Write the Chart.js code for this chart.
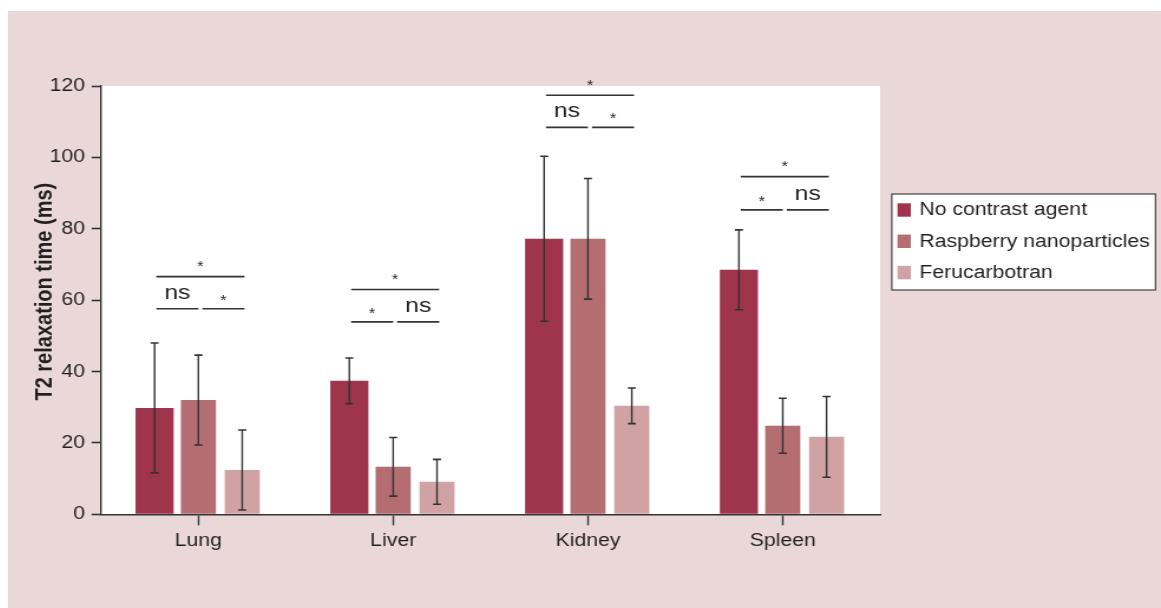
<!DOCTYPE html>
<html>
<head>
<meta charset="utf-8">
<script src="https://cdn.jsdelivr.net/npm/chart.js@4.4.1/dist/chart.umd.min.js"></script>
<style>
  html, body { margin: 0; padding: 0; background: #ffffff; }
  #frame { position: absolute; left: 8px; top: 11px; width: 1153px; height: 597px; background: #ead8d8; overflow: hidden; }
  #c { display: block; }
</style>
</head>
<body>
<div id="frame"><canvas id="c" width="977" height="597" style="width:1153px;height:597px"></canvas></div>
<script>
// T2 relaxation time (ms) per organ, mean and standard deviation
const organs = ['Lung', 'Liver', 'Kidney', 'Spleen'];
const seriesNames = ['No contrast agent', 'Raspberry nanoparticles', 'Ferucarbotran'];
const noContrast      = [29.8, 37.4, 77.2, 68.5];
const noContrastSD    = [18.2, 6.4, 23.1, 11.2];
const raspberry       = [32.0, 13.3, 77.2, 24.8];
const raspberrySD     = [12.6, 8.2, 16.9, 7.7];
const ferucarbotran   = [12.4, 9.1, 30.4, 21.7];
const ferucarbotranSD = [11.2, 6.3, 5.0, 11.3];
const yTicks = [0, 20, 40, 60, 80, 100, 120];

// Significance brackets above each organ group (levels in ms)
const sigOuterLevel = [66.6, 63.0, 117.4, 94.6];
const sigInnerLevel = [57.6, 53.9, 108.4, 85.3];
const sigOuter      = ['*', '*', '*', '*'];
const sigInnerLeft  = ['ns', '*', 'ns', '*'];
const sigInnerRight = ['*', 'ns', '*', 'ns'];

const seriesColors = ['#9e354c', '#b46d70', '#d1a2a3'];
const seriesValues = [noContrast, raspberry, ferucarbotran];
const seriesSD = [noContrastSD, raspberrySD, ferucarbotranSD];
const barPct = [0.87, 0.80, 0.80];

const FONT = '"Liberation Sans", Arial, Helvetica, sans-serif';
const INK = '#231f20';
const LINE = '#333333';

const decorations = {
  id: 'decorations',
  beforeDraw(chart) {
    const { ctx, chartArea: a } = chart;
    ctx.save();
    ctx.fillStyle = '#ffffff';
    ctx.fillRect(a.left, a.top, a.right - a.left, a.bottom - a.top);
    ctx.restore();
  },
  afterDatasetsDraw(chart) {
    const { ctx } = chart;
    const y = chart.scales.y;
    ctx.save();
    ctx.strokeStyle = LINE;
    seriesValues.forEach((vals, i) => {
      const meta = chart.getDatasetMeta(i);
      meta.data.forEach((bar, j) => {
        const top = y.getPixelForValue(vals[j] + seriesSD[i][j]);
        const bot = y.getPixelForValue(vals[j] - seriesSD[i][j]);
        ctx.lineWidth = 1.4;
        ctx.beginPath();
        ctx.moveTo(bar.x, top);
        ctx.lineTo(bar.x, bot);
        ctx.stroke();
        ctx.lineWidth = 1.6;
        ctx.beginPath();
        ctx.moveTo(bar.x - 3.4, top); ctx.lineTo(bar.x + 3.4, top);
        ctx.moveTo(bar.x - 3.4, bot); ctx.lineTo(bar.x + 3.4, bot);
        ctx.stroke();
      });
    });
    ctx.restore();
  },
  afterDraw(chart) {
    const { ctx, chartArea: a } = chart;
    const xs = chart.scales.x, ys = chart.scales.y;
    ctx.save();

    // significance brackets
    const hline = (x1, x2, yy) => {
      ctx.beginPath(); ctx.moveTo(x1, yy); ctx.lineTo(x2, yy); ctx.stroke();
    };
    const label = (txt, cx, lineY) => {
      if (txt === '*') {
        ctx.font = '14px ' + FONT;
        ctx.textBaseline = 'alphabetic';
        ctx.fillText('*', cx, lineY - 4);
      } else {
        ctx.font = '21px ' + FONT;
        ctx.textBaseline = 'alphabetic';
        ctx.fillText(txt, cx, lineY - 10);
      }
    };
    ctx.strokeStyle = LINE;
    ctx.fillStyle = INK;
    ctx.lineWidth = 1.6;
    ctx.textAlign = 'center';
    organs.forEach((_, j) => {
      const c = xs.getPixelForValue(j);
      const yo = ys.getPixelForValue(sigOuterLevel[j]);
      const yi = ys.getPixelForValue(sigInnerLevel[j]);
      hline(c - 35.6, c + 39, yo);
      hline(c - 35.6, c, yi);
      hline(c + 3.4, c + 39, yi);
      ctx.font = '14px ' + FONT;
      ctx.fillText(sigOuter[j], c + 1.7, yo - 5.5);
      label(sigInnerLeft[j], c - 17.8, yi);
      label(sigInnerRight[j], c + 21.2, yi);
    });

    // y-axis title
    ctx.save();
    ctx.translate(31, (a.top + a.bottom) / 2 - 8.5);
    ctx.rotate(-Math.PI / 2);
    ctx.font = 'bold 20px ' + FONT;
    ctx.textAlign = 'center';
    ctx.textBaseline = 'middle';
    ctx.fillStyle = INK;
    ctx.fillText('T2 relaxation time (ms)', 0, 0);
    ctx.restore();

    // legend box
    const lx = a.right + 9.9, ly = a.top + 108, lw = 223.4, lh = 96;
    ctx.fillStyle = '#ffffff';
    ctx.fillRect(lx, ly, lw, lh);
    ctx.strokeStyle = LINE;
    ctx.lineWidth = 1.1;
    ctx.strokeRect(lx, ly, lw, lh);
    ctx.font = '18px ' + FONT;
    ctx.textAlign = 'left';
    ctx.textBaseline = 'middle';
    chart.data.datasets.forEach((ds, i) => {
      const cy = ly + 16 + i * 31.3;
      ctx.fillStyle = ds.backgroundColor;
      ctx.fillRect(lx + 4.8, cy - 6.7, 11.3, 13.4);
      ctx.fillStyle = INK;
      ctx.fillText(ds.label, lx + 23.4, cy + 0.5);
    });
    ctx.restore();
  }
};

new Chart(document.getElementById('c'), {
  type: 'bar',
  data: {
    labels: organs,
    datasets: seriesValues.map((vals, i) => ({
      label: seriesNames[i],
      data: vals,
      backgroundColor: seriesColors[i],
      borderWidth: 0,
      categoryPercentage: 0.675,
      barPercentage: barPct[i]
    }))
  },
  options: {
    responsive: false,
    animation: false,
    events: [],
    layout: { padding: { left: 0, top: 75, right: 238, bottom: 43.7 } },
    plugins: { legend: { display: false }, tooltip: { enabled: false } },
    scales: {
      x: {
        offset: true,
        grid: { offset: false, drawOnChartArea: false, drawTicks: true, tickLength: 11, tickColor: LINE, tickWidth: 1.4 },
        border: { display: true, color: LINE, width: 1.6 },
        ticks: { color: INK, font: { family: FONT, size: 18 }, padding: 5, maxRotation: 0 },
        afterFit(s) { s.height = 50; }
      },
      y: {
        min: 0, max: 120,
        afterBuildTicks(s) { s.ticks = yTicks.map(v => ({ value: v })); },
        grid: { drawOnChartArea: false, drawTicks: true, tickLength: 7.9, tickColor: LINE, tickWidth: 1.6 },
        border: { display: true, color: LINE, width: 1.4 },
        ticks: { color: INK, font: { family: FONT, size: 18 }, padding: 5.6 },
        afterFit(s) { s.width = 78.8; }
      }
    }
  },
  plugins: [decorations]
});
</script>
</body>
</html>
